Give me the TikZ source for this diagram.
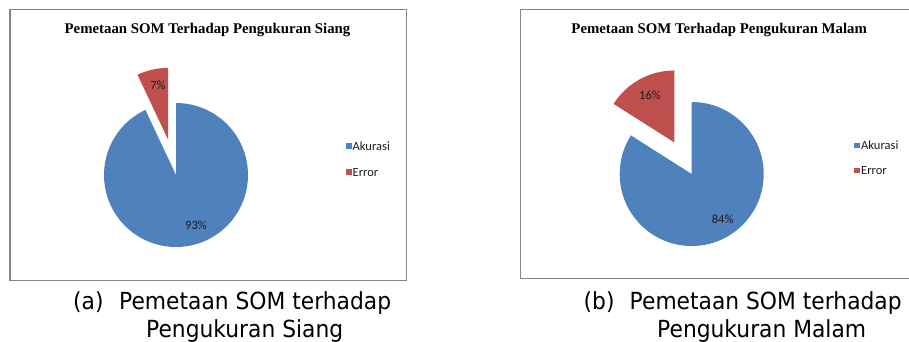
\documentclass[tikz,border=0pt]{standalone}
\usepackage{fontspec}
\usetikzlibrary{calc}
\setmainfont{Liberation Serif}
\newfontfamily\calfont{Carlito}
\newfontfamily\capfont{DejaVu Sans}
\definecolor{pieblue}{HTML}{4F81BD}
\definecolor{piered}{HTML}{C0504D}
\definecolor{framegray}{HTML}{858585}
\definecolor{labeltext}{HTML}{1A1A1A}
\newcommand{\captall}[1]{\scalebox{1}[1.08]{#1}}
\begin{document}
\begin{tikzpicture}[x=1pt,y=-1pt,
  frame/.style={draw=framegray,line width=1.1pt},
  charttitle/.style={anchor=base,inner sep=0pt,font=\fontsize{14.8}{16}\selectfont\bfseries},
  datalabel/.style={inner sep=0pt,text=labeltext,font=\calfont\fontsize{12.5}{14}\selectfont},
  legendtext/.style={anchor=base west,inner sep=0pt,text=labeltext,font=\calfont\fontsize{12.5}{14}\selectfont},
  captext/.style={anchor=base west,inner sep=0pt,font=\capfont\fontsize{21.8}{24}\selectfont},
  bluefill/.style={fill=pieblue,draw=none},
  redfill/.style={fill=piered,draw=none}]
\useasboundingbox (0,0) rectangle (909,341);
% ---------------- chart (a) ----------------
\draw[frame] (10,9.7) rectangle (406.3,280.3);
\node[charttitle] (ta) at (207.5,33.3) {Pemetaan SOM Terhadap Pengukuran Siang};
\coordinate (ca) at (176,175);
\coordinate (ra) at ($(ca)+(-102.6:36)$);
\fill[bluefill] (ca) -- ++(-90:72) arc[start angle=-90,end angle=244.8,radius=72] -- cycle;
\fill[redfill] (ra) -- ++(-90:72) arc[start angle=-90,end angle=-115.2,radius=72] -- cycle;
\node[datalabel] (la1) at (158,85) {7\%};
\node[datalabel] (la2) at (196,225) {93\%};
\fill[pieblue] (346,143) rectangle (351.5,148.5);
\node[legendtext] (lga1) at (352.5,150.7) {Akurasi};
\fill[piered] (346,169) rectangle (351.5,174.5);
\node[legendtext] (lga2) at (352.5,176.2) {Error};
% ---------------- chart (b) ----------------
\draw[frame] (909.5,9.3) -- (520.7,9.3) -- (520.7,278.3) -- (909.5,278.3);
\node[charttitle] (tb) at (719.2,33.3) {Pemetaan SOM Terhadap Pengukuran Malam};
\coordinate (cb) at (691.7,174);
\coordinate (rb) at ($(cb)+(-118.8:36)$);
\fill[bluefill] (cb) -- ++(-90:72) arc[start angle=-90,end angle=212.4,radius=72] -- cycle;
\fill[redfill] (rb) -- ++(-90:72) arc[start angle=-90,end angle=-147.6,radius=72] -- cycle;
\node[datalabel] (lb1) at (650,95) {16\%};
\node[datalabel] (lb2) at (722.7,219.3) {84\%};
\fill[pieblue] (854,142.7) rectangle (859.5,148.2);
\node[legendtext] (lgb1) at (861,149.5) {Akurasi};
\fill[piered] (854,167.7) rectangle (859.5,173.2);
\node[legendtext] (lgb2) at (861,174.5) {Error};
% ---------------- captions ----------------
\node[captext] (capa0) at (73,309.5) {\captall{(a)}};
\node[captext] (capa1) at (119,309.5) {\captall{Pemetaan SOM terhadap}};
\node[captext] (capa2) at (146,337) {\captall{Pengukuran Siang}};
\node[captext] (capb0) at (583.5,309.5) {\captall{(b)}};
\node[captext] (capb1) at (629.5,309.5) {\captall{Pemetaan SOM terhadap}};
\node[captext] (capb2) at (657,337) {\captall{Pengukuran Malam}};
\end{tikzpicture}
\end{document}
